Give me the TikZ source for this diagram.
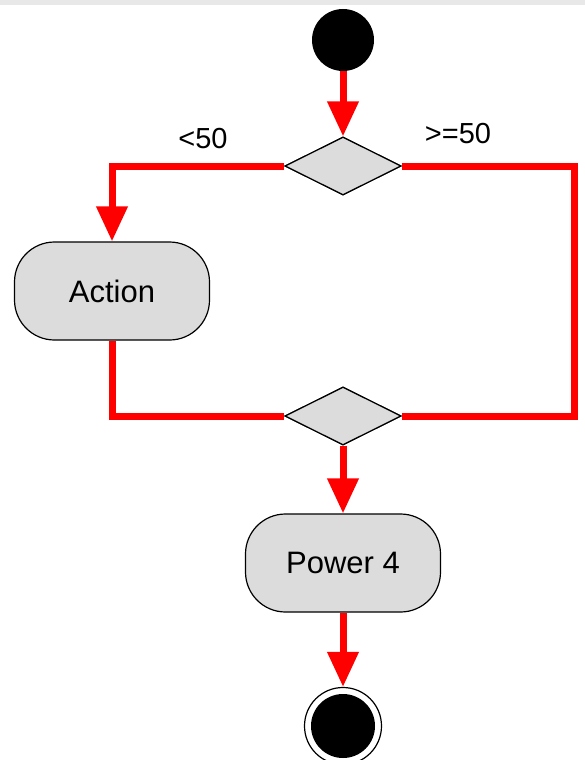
\documentclass[tikz,border=0pt]{standalone}
\usepackage{fontspec}
\setmainfont{Liberation Sans}
\usetikzlibrary{shapes.geometric,arrows.meta}

\definecolor{boxgray}{HTML}{DCDCDC}
\definecolor{flowred}{HTML}{FF0000}

\tikzset{
  flow/.style={draw=flowred, line width=7pt},
  flowarrow/.style={flow, -{Triangle[width=30pt,length=35pt]}},
  activity/.style={draw=black, line width=1.2pt, fill=boxgray, rectangle,
    rounded corners=40pt, minimum width=195pt, minimum height=98pt,
    inner sep=0pt, font=\fontsize{31}{34}\selectfont},
  decision/.style={draw=black, line width=1.2pt, fill=boxgray, diamond,
    minimum width=116pt, minimum height=58pt, inner sep=0pt},
  guard/.style={font=\fontsize{29}{32}\selectfont, inner sep=0pt},
}

\begin{document}
\begin{tikzpicture}[x=1pt, y=-1pt]
  \useasboundingbox (0,0) rectangle (585,760);
  % thin grey strip along the top edge
  \fill[black!9] (0,0) rectangle (585,5);

  % nodes
  \node[circle, fill=black, minimum size=62pt, inner sep=0pt] (start) at (343,40) {};
  \node[decision] (split) at (343,166) {};
  \node[activity] (action) at (112,291) {Action};
  \node[decision] (merge) at (343,416) {};
  \node[activity] (power) at (343,563) {Power 4};
  \node[circle, draw=black, line width=1.2pt, fill=white, minimum size=77pt, inner sep=0pt] (final) at (343,726) {};
  \node[circle, fill=black, minimum size=64pt, inner sep=0pt] (finalcore) at (final.center) {};

  % guard labels
  \node[guard] (lt) at (203,139) {<50};
  \node[guard] (ge) at (458,134) {>=50};

  % corner of the right-hand branch
  \coordinate (rcorner) at (574,166);

  % connectors
  \draw[flowarrow] (start) -- (split.north);
  \draw[flowarrow] (split.west) -| (action.north);
  \draw[flow] (split.east) -- (rcorner) |- (merge.east);
  \draw[flow] (action.south) |- (merge.west);
  \draw[flowarrow] (merge.south) -- (power.north);
  \draw[flowarrow] (power.south) -- (final.north);

  % redraw the decision outlines over the line ends
  \node[decision] at (split.center) {};
  \node[decision] at (merge.center) {};
\end{tikzpicture}
\end{document}
